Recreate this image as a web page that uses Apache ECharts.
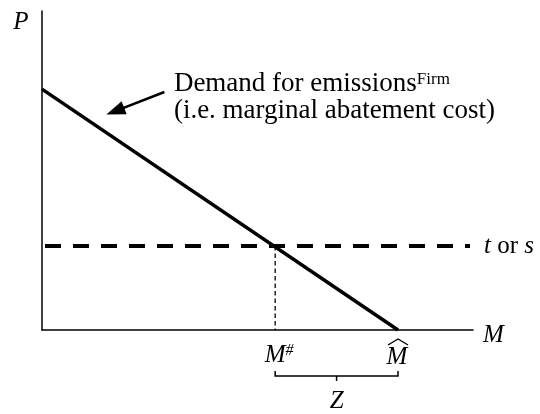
<!DOCTYPE html>
<html>
<head>
<meta charset="utf-8">
<script src="https://cdn.jsdelivr.net/npm/echarts@6/dist/echarts.min.js"></script>
<style>
  html, body { margin: 0; padding: 0; background: #fff; }
  #chart { width: 540px; height: 414px; }
</style>
</head>
<body>
<div id="chart"></div>
<script>
// demand for emissions (marginal abatement cost) — straight line from P axis to M axis
const demandM = [0, 82.6];
const demandP = [75.5, 0];
// tax / permit price level
const taxLevel = 26.3;
const taxEnd = 99.3;
// quantities marked on the M axis
const mSharp = 54.1;
const mHat = 82.6;
// axis extents
const xMax = 100;
const yMax = 100;
// note and its arrow (data units)
const noteAt = [30.6, 77.1];
const arrowFrom = [28.4, 74.6];
const arrowTo = [17, 68.6];

const serif = 'Liberation Serif';
const black = '#000';

const chart = echarts.init(document.getElementById('chart'), null, { renderer: 'canvas' });

// helper: line series from two arrays
function pairs(xs, ys) {
  return xs.map((x, i) => [x, ys[i]]);
}

const option = {
  animation: false,
  backgroundColor: '#fff',
  grid: { left: 42, right: 67, top: 11, bottom: 84, outerBoundsMode: 'none' },
  xAxis: {
    type: 'value', min: 0, max: xMax,
    axisLine: { lineStyle: { color: black, width: 1.5 } },
    axisTick: { show: false }, axisLabel: { show: false }, splitLine: { show: false }
  },
  yAxis: {
    type: 'value', min: 0, max: yMax,
    axisLine: { lineStyle: { color: black, width: 1.5 } },
    axisTick: { show: false }, axisLabel: { show: false }, splitLine: { show: false }
  },
  series: [
    { // demand curve
      type: 'line', name: 'demand', silent: true, symbol: 'none',
      data: pairs(demandM, demandP),
      lineStyle: { color: black, width: 3.5 },
      markLine: { // arrow from the note
        silent: true, symbol: ['none', 'triangle'], symbolSize: [14, 19],
        label: { show: false },
        lineStyle: { color: black, width: 2.5, type: 'solid' },
        data: [[{ coord: arrowFrom }, { coord: arrowTo }]]
      }
    },
    { // tax / permit price
      type: 'line', name: 'tax', silent: true, symbol: 'none',
      data: [[0, taxLevel], [taxEnd, taxLevel]],
      lineStyle: { color: black, width: 4, type: [16, 12], dashOffset: -3 },
      endLabel: {
        show: true, distance: 14, formatter: '{i|t}{r| or }{i|s}',
        rich: {
          i: { fontFamily: serif, fontStyle: 'italic', fontSize: 25, color: black },
          r: { fontFamily: serif, fontSize: 25, color: black }
        }
      }
    },
    { // drop line at M#
      type: 'line', name: 'drop', silent: true, symbol: 'none',
      data: [[mSharp, taxLevel], [mSharp, 0]],
      lineStyle: { color: black, width: 1.3, type: [4.5, 3] }
    },
    { // axis names, M labels, brace and note
      type: 'custom', name: 'notes', silent: true, clip: false,
      data: [[mSharp, mHat]],
      renderItem: function (params, api) {
        const a = api.coord([api.value(0), 0]);
        const b = api.coord([api.value(1), 0]);
        const o = api.coord([0, yMax]);
        const e = api.coord([xMax, 0]);
        const n = api.coord(noteAt);
        const mid = (a[0] + b[0]) / 2;
        const y0 = a[1];
        const txt = (x, y, text, extra) => ({
          type: 'text', x: x, y: y,
          style: Object.assign({
            text: text, fill: black, fontFamily: serif, fontSize: 25,
            align: 'center', verticalAlign: 'middle'
          }, extra || {})
        });
        return {
          type: 'group',
          children: [
            txt(o[0] - 21, o[1] + 11, 'P', { fontStyle: 'italic' }),
            txt(e[0] + 10, e[1] + 5, 'M', { fontStyle: 'italic', align: 'left' }),
            txt(a[0] + 4, y0 + 25, '{m|M}{s|#}', {
              rich: {
                m: { fontFamily: serif, fontStyle: 'italic', fontSize: 25, verticalAlign: 'bottom' },
                s: { fontFamily: serif, fontStyle: 'italic', fontSize: 16, verticalAlign: 'top' }
              }
            }),
            txt(b[0] - 1, y0 + 27, 'M', { fontStyle: 'italic' }),
            { // wide hat over M
              type: 'polyline',
              shape: { points: [[b[0] - 10, y0 + 15], [b[0], y0 + 9], [b[0] + 10, y0 + 15]] },
              style: { stroke: black, lineWidth: 1.3, fill: null }
            },
            txt(mid, y0 + 71, 'Z', { fontStyle: 'italic' }),
            { // brace under M# .. M^
              type: 'polyline',
              shape: { points: [[a[0], y0 + 41], [a[0], y0 + 46], [b[0], y0 + 46], [b[0], y0 + 41]] },
              style: { stroke: black, lineWidth: 1.5, fill: null }
            },
            {
              type: 'line',
              shape: { x1: mid, y1: y0 + 46, x2: mid, y2: y0 + 51 },
              style: { stroke: black, lineWidth: 1.5 }
            },
            txt(n[0], n[1], '{t|Demand for emissions}{s|Firm}', {
              align: 'left',
              rich: {
                t: { fontFamily: serif, fontSize: 27, verticalAlign: 'bottom' },
                s: { fontFamily: serif, fontSize: 17, verticalAlign: 'top' }
              }
            }),
            txt(n[0], n[1] + 27, '(i.e. marginal abatement cost)', { align: 'left', fontSize: 27 })
          ]
        };
      }
    }
  ]
};

chart.setOption(option);
</script>
</body>
</html>
